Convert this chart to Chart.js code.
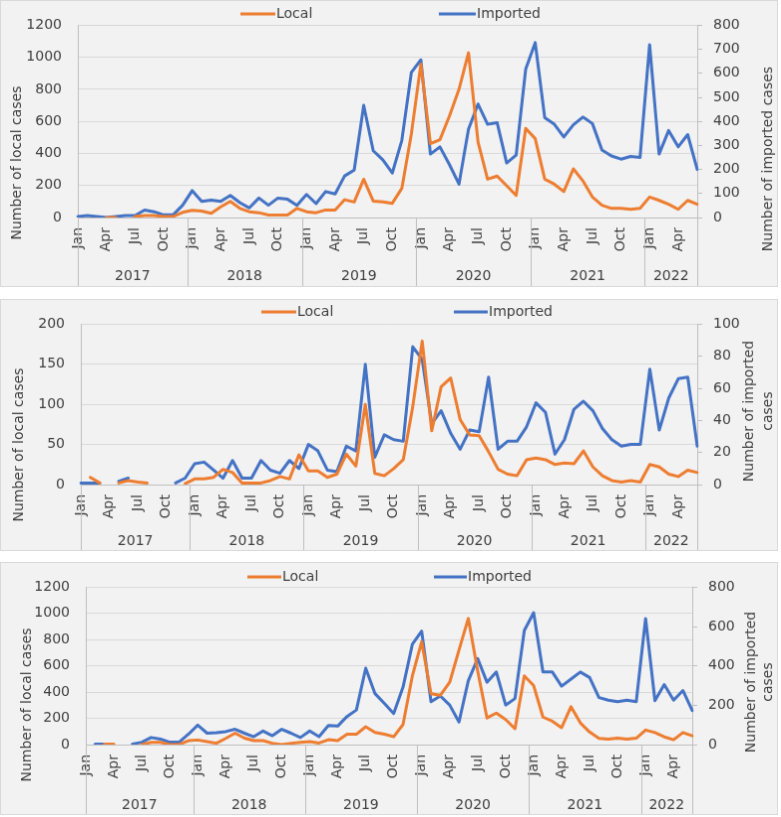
<!DOCTYPE html>
<html>
<head>
<meta charset="utf-8">
<script src="https://cdn.jsdelivr.net/npm/chart.js@4.4.1/dist/chart.umd.min.js"></script>
<style>
    body { margin: 0; background: #ffffff; }
    .panel { position: absolute; left: 0; }
    .panel canvas { background: #f2f2f2; border: 1px solid #d9d9d9; display: block; }
</style>
</head>
<body>
<div class="panel" style="top:0px"><canvas id="chart1" width="778" height="287"></canvas></div>
<div class="panel" style="top:299px"><canvas id="chart2" width="778" height="252"></canvas></div>
<div class="panel" style="top:562px"><canvas id="chart3" width="778" height="253"></canvas></div>
<script>
// Jan 2017 .. Jun 2022
const monthNames = ['Jan', 'Feb', 'Mar', 'Apr', 'May', 'Jun', 'Jul', 'Aug', 'Sep', 'Oct', 'Nov', 'Dec'];
const months = [];
for (let i = 0; i < 66; i++) months.push(monthNames[i % 12]);
const shownMonths = ['Jan', 'Apr', 'Jul', 'Oct'];
const years = ['2017', '2018', '2019', '2020', '2021', '2022'];

// Panel 1
const local1 = [null, null, null, 0, 0, null, 6, 12, 12, 6, 6, 32,
    45, 40, 26, 67, 101, 57, 36, 30, 16, 16, 16, 57,
    36, 30, 47, 47, 111, 97, 239, 103, 97, 89, 182, 522,
    957, 461, 486, 634, 801, 1028, 470, 239, 259, 198, 138, 557,
    492, 239, 208, 162, 304, 229, 128, 77, 57, 57, 51, 57,
    128, 107, 83, 51, 107, 83];
const imported1 = [4, 8, 4, 0, 4, 8, 8, 31, 24, 11, 11, 51,
    112, 67, 72, 67, 92, 62, 40, 81, 51, 81, 76, 51,
    96, 58, 108, 98, 173, 197, 467, 278, 240, 185, 321, 604,
    656, 264, 294, 220, 139, 368, 472, 388, 395, 227, 260, 618,
    728, 415, 388, 335, 386, 418, 391, 281, 256, 243, 254, 250,
    719, 264, 362, 294, 345, 200];

// Panel 2
const local2 = [null, 9, 2, null, 2, 5, 3, 2, null, null, null, 1,
    7, 7, 9, 19, 15, 2, 2, 2, 5, 10, 7, 37,
    17, 17, 9, 13, 38, 23, 100, 14, 11, 20, 31, 97,
    179, 67, 122, 133, 81, 62, 61, 41, 19, 13, 11, 31,
    33, 31, 25, 27, 26, 42, 22, 11, 5, 3, 5, 3,
    25, 22, 13, 10, 18, 15];
const imported2 = [1, 1, 1, null, 2, 4, null, null, null, null, 1, 4,
    13, 14, 9, 4, 15, 4, 4, 15, 9, 7, 15, 10,
    25, 21, 9, 8, 24, 21, 75, 17, 31, 28, 27, 86,
    78, 38, 46, 32, 22, 34, 33, 67, 22, 27, 27, 36,
    51, 45, 19, 28, 47, 52, 46, 35, 28, 24, 25, 25,
    72, 34, 54, 66, 67, 24];

// Panel 3
const local3 = [null, null, 3, 3, null, null, 0, 17, 17, 0, 0, 30,
    35, 22, 10, 47, 87, 49, 30, 30, 10, 0, 10, 17,
    22, 12, 37, 30, 79, 79, 136, 92, 79, 60, 153, 524,
    784, 388, 376, 475, 722, 962, 562, 203, 240, 191, 121, 524,
    450, 210, 178, 129, 289, 166, 96, 47, 42, 49, 42, 49,
    111, 92, 59, 37, 92, 67];
const imported3 = [null, 3, 3, null, null, 3, 12, 36, 28, 12, 12, 53,
    99, 58, 61, 66, 78, 58, 40, 69, 45, 78, 58, 36,
    69, 40, 97, 94, 143, 176, 388, 259, 209, 158, 292, 510,
    577, 218, 247, 201, 115, 325, 437, 317, 369, 201, 234, 580,
    671, 369, 369, 297, 333, 369, 341, 239, 226, 218, 226, 218,
    641, 223, 305, 226, 275, 173];

const textColor = '#404040';
const fontFamily = '"DejaVu Sans", Verdana, sans-serif';
const orange = '#ED7D31';
const blue = '#4472C4';

// draws the year row, legend and axis titles the way Excel does
const excelExtras = {
    id: 'excelExtras',
    afterDraw(chart, args, opts) {
        const ctx = chart.ctx;
        const area = chart.chartArea;
        const xScale = chart.scales.x;
        ctx.save();

        // year separators
        const bounds = [area.left];
        for (let i = 12; i < months.length; i += 12) {
            bounds.push((xScale.getPixelForValue(i - 1) + xScale.getPixelForValue(i)) / 2);
        }
        bounds.push(area.right);
        ctx.strokeStyle = '#bfbfbf';
        ctx.lineWidth = 1;
        bounds.forEach(b => {
            const bx = Math.round(b) + 0.5;
            ctx.beginPath();
            ctx.moveTo(bx, area.bottom);
            ctx.lineTo(bx, chart.height);
            ctx.stroke();
        });

        ctx.fillStyle = textColor;
        ctx.font = '14px ' + fontFamily;
        ctx.textAlign = 'center';
        ctx.textBaseline = 'middle';
        for (let k = 0; k < years.length; k++) {
            ctx.fillText(years[k], (bounds[k] + bounds[k + 1]) / 2, opts.yearY);
        }

        // legend
        const items = [
            { label: 'Local', color: orange, x1: opts.legend.local[0], x2: opts.legend.local[1] },
            { label: 'Imported', color: blue, x1: opts.legend.imported[0], x2: opts.legend.imported[1] }
        ];
        items.forEach(item => {
            ctx.strokeStyle = item.color;
            ctx.lineWidth = 3;
            ctx.beginPath();
            ctx.moveTo(item.x1, opts.legend.y);
            ctx.lineTo(item.x2, opts.legend.y);
            ctx.stroke();
            ctx.textAlign = 'left';
            ctx.fillText(item.label, item.x2 + 1, opts.legend.y);
        });

        // axis titles
        ctx.textAlign = 'center';
        ctx.save();
        ctx.translate(opts.leftTitle.x, opts.leftTitle.y);
        ctx.rotate(-Math.PI / 2);
        ctx.fillText('Number of local cases', 0, 0);
        ctx.restore();

        opts.rightTitle.lines.forEach((line, n) => {
            ctx.save();
            ctx.translate(opts.rightTitle.x[n], opts.rightTitle.y);
            ctx.rotate(-Math.PI / 2);
            ctx.fillText(line, 0, 0);
            ctx.restore();
        });

        ctx.restore();
    }
};

function makePanel(canvasId, local, imported, cfg) {
    const ctx = document.getElementById(canvasId).getContext('2d');
    const tickFont = { family: fontFamily, size: 14 };

    return new Chart(ctx, {
        type: 'line',
        data: {
            labels: months,
            datasets: [{
                label: 'Local',
                data: local,
                borderColor: orange,
                yAxisID: 'y'
            },
            {
                label: 'Imported',
                data: imported,
                borderColor: blue,
                yAxisID: 'y1'
            }]
        },
        options: {
            responsive: false,
            animation: false,
            spanGaps: false,
            layout: { padding: { top: cfg.top, left: 0, right: 0, bottom: 0 } },
            elements: {
                point: { radius: 0 },
                line: { borderWidth: 3, tension: 0, borderJoinStyle: 'round', borderCapStyle: 'round' }
            },
            plugins: {
                legend: { display: false },
                tooltip: { enabled: false },
                excelExtras: cfg.extras
            },
            scales: {
                x: {
                    grid: { display: true, drawOnChartArea: false, drawTicks: false },
                    border: { display: true, color: '#bfbfbf' },
                    ticks: {
                        autoSkip: false,
                        minRotation: 90,
                        maxRotation: 90,
                        padding: 10,
                        color: textColor,
                        font: tickFont,
                        callback: (value, index) => shownMonths.includes(months[index]) ? months[index] : ''
                    },
                    afterFit: (scale) => { scale.height = cfg.xHeight; }
                },
                y: {
                    position: 'left',
                    min: 0,
                    max: cfg.leftMax,
                    grid: { color: '#d9d9d9', drawTicks: false },
                    border: { display: true, color: '#bfbfbf' },
                    ticks: {
                        stepSize: cfg.leftStep,
                        padding: 16,
                        color: textColor,
                        font: tickFont,
                        callback: (value) => String(value)
                    },
                    afterFit: (scale) => { scale.width = cfg.leftWidth; }
                },
                y1: {
                    position: 'right',
                    min: 0,
                    max: cfg.rightMax,
                    grid: { drawOnChartArea: false, drawTicks: true, tickLength: 5, tickColor: '#bfbfbf' },
                    border: { display: true, color: '#bfbfbf' },
                    ticks: {
                        stepSize: cfg.rightStep,
                        padding: 11,
                        color: textColor,
                        font: tickFont,
                        callback: (value) => String(value)
                    },
                    afterFit: (scale) => { scale.width = cfg.rightWidth; }
                }
            }
        },
        plugins: [excelExtras]
    });
}

document.addEventListener('DOMContentLoaded', function() {
    makePanel('chart1', local1, imported1, {
        top: 19, xHeight: 69, leftWidth: 77, rightWidth: 80,
        leftMax: 1200, leftStep: 200, rightMax: 800, rightStep: 100,
        extras: {
            yearY: 277,
            legend: { y: 13, local: [240, 275], imported: [439, 476] },
            leftTitle: { x: 16, y: 163 },
            rightTitle: { x: [769], y: 159, lines: ['Number of imported cases'] }
        }
    });

    makePanel('chart2', local2, imported2, {
        top: 20, xHeight: 66, leftWidth: 80, rightWidth: 80,
        leftMax: 200, leftStep: 50, rightMax: 100, rightStep: 20,
        extras: {
            yearY: 243,
            legend: { y: 12, local: [261, 296], imported: [454, 488] },
            leftTitle: { x: 18, y: 146 },
            rightTitle: { x: [750, 769], y: 112, lines: ['Number of imported', 'cases'] }
        }
    });

    makePanel('chart3', local3, imported3, {
        top: 21, xHeight: 70, leftWidth: 85, rightWidth: 85,
        leftMax: 1200, leftStep: 200, rightMax: 800, rightStep: 200,
        extras: {
            yearY: 244,
            legend: { y: 14, local: [247, 281], imported: [434, 467] },
            leftTitle: { x: 26, y: 143 },
            rightTitle: { x: [752, 769], y: 120, lines: ['Number of imported', 'cases'] }
        }
    });
});
</script>
</body>
</html>
